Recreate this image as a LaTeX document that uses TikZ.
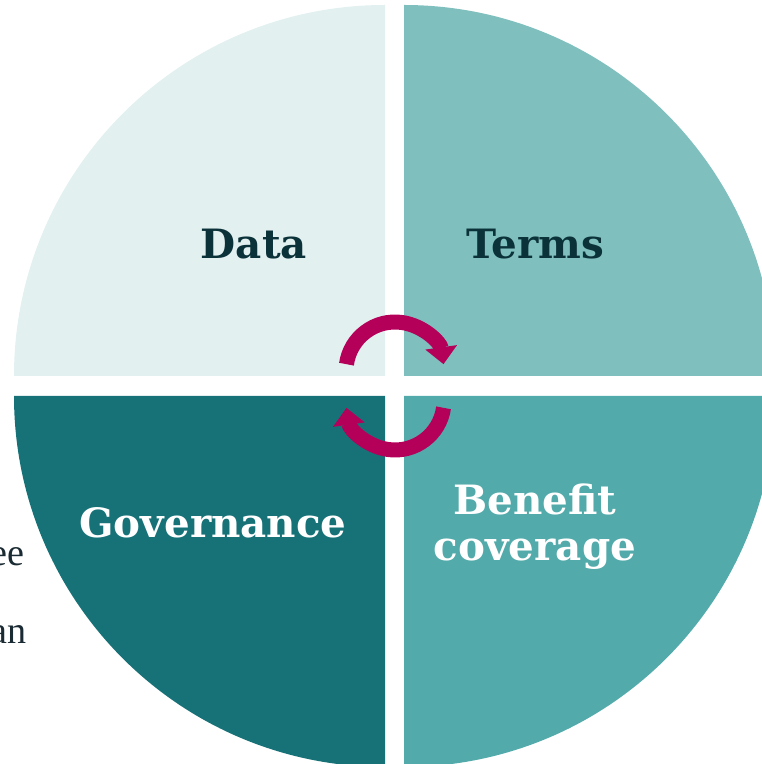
\documentclass[tikz,border=0pt]{standalone}
\usepackage{fontspec}
\setmainfont{DejaVu Serif}
\newfontfamily\sidefont{Liberation Serif}
\usetikzlibrary{arrows.meta}

\definecolor{dataclr}{HTML}{E2F0F0}
\definecolor{termsclr}{HTML}{7FBFBE}
\definecolor{govclr}{HTML}{177278}
\definecolor{benclr}{HTML}{53AAAA}
\definecolor{loopclr}{HTML}{B5005A}
\definecolor{darktxt}{HTML}{0B3239}
\definecolor{sidetxt}{HTML}{1B2B33}

\tikzset{
  lbl/.style={anchor=base, font=\bfseries\fontsize{23}{28}\selectfont},
  sidelbl/.style={anchor=base east, inner sep=0pt, text=sidetxt,
    font=\sidefont\fontsize{21.7}{26}\selectfont},
  loop/.style={draw=loopclr, line width=0.3cm,
    -{Triangle[length=0.34cm, width=0.62cm]}}
}

\begin{document}
\begin{tikzpicture}[x=0.02cm, y=0.02cm]% Example:
\useasboundingbox (0,0) rectangle (761,764);

% text running in from the left
\node[sidelbl] (sidea) at (25,198) {ee};
\node[sidelbl] (sideb) at (27,120) {an};

% four quarter discs, pulled apart
\foreach \cx/\cy/\a/\col in {385/388/90/dataclr, 404/388/0/termsclr,
                             385/368/180/govclr, 404/368/270/benclr}
    \fill[\col] (\cx,\cy) -- ++(\a:371) arc[start angle=\a, delta angle=90, radius=371] -- cycle;

\node[lbl, text=darktxt] (data) at (254,505) {Data};
\node[lbl, text=darktxt] (terms) at (535,505) {Terms};
\node[lbl, text=white] (governance) at (213,226) {Governance};
\node[lbl, text=white] (benefit) at (535,249) {Benefit};
\node[lbl, text=white] (coverage) at (535,203) {coverage};

% the two turning arrows in the middle
\draw[loop] (395,393) ++(172:49) arc[start angle=172, end angle=8, radius=49];
\draw[loop] (395,363) ++(-8:49) arc[start angle=-8, end angle=-172, radius=49];

\end{tikzpicture}
\end{document}
